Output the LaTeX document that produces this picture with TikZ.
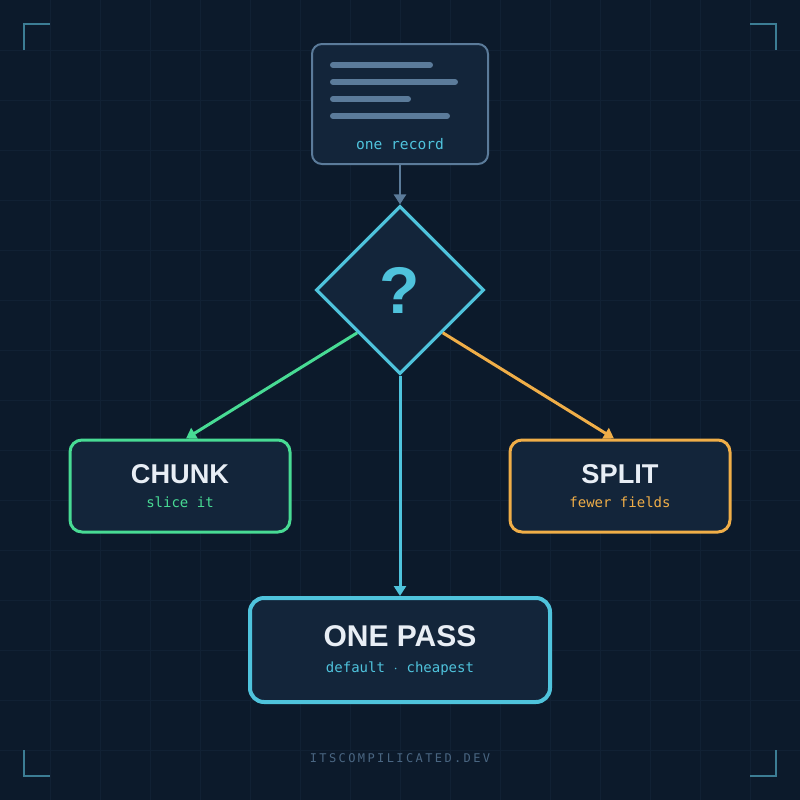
\documentclass[tikz,border=0pt]{standalone}
\usepackage{fontspec}
\setmainfont{Liberation Sans}
\newfontfamily\monofont{DejaVu Sans Mono}
\usetikzlibrary{shapes.geometric,arrows.meta,calc}

\definecolor{bgnavy}{HTML}{0C1A2B}
\definecolor{gridnavy}{HTML}{112134}
\definecolor{boxfill}{HTML}{13253A}
\definecolor{slate}{HTML}{5B7B9A}
\definecolor{skycyan}{HTML}{4FC3DC}
\definecolor{mint}{HTML}{48DB94}
\definecolor{amber}{HTML}{F0AE48}
\definecolor{snow}{HTML}{E8EEF5}
\definecolor{bracket}{HTML}{3C7D94}
\definecolor{footgray}{HTML}{4A6682}

\tikzset{
  card/.style={draw, fill=boxfill, rounded corners=6pt, line width=1.5pt,
    minimum width=110pt, minimum height=46pt, inner sep=0pt},
  head/.style={text=snow, font=\bfseries\fontsize{13.6}{14}\selectfont,
    anchor=base, inner sep=0pt},
  subtext/.style={font=\monofont\fontsize{7}{8}\selectfont, anchor=base, inner sep=0pt},
  link/.style={line width=1.5pt, -{Triangle[length=5pt,width=6pt]}},
}

\begin{document}
\begin{tikzpicture}[x=0.5pt,y=-0.5pt]
% backdrop and grid
\fill[bgnavy] (0,0) rectangle (800,800);
\useasboundingbox (0,0) rectangle (800,800);
\foreach \g in {50,100,...,750} {
  \draw[gridnavy, line width=0.5pt] (\g,0) -- (\g,800);
  \draw[gridnavy, line width=0.5pt] (0,\g) -- (800,\g);
}
% corner marks
\draw[bracket, line width=1pt] (24,50) -- (24,24) -- (50,24);
\draw[bracket, line width=1pt] (750,24) -- (776,24) -- (776,50);
\draw[bracket, line width=1pt] (24,750) -- (24,776) -- (50,776);
\draw[bracket, line width=1pt] (750,776) -- (776,776) -- (776,750);

% the record
\node[card, draw=slate, line width=1pt, minimum width=88pt, minimum height=60pt,
  rounded corners=5pt] (record) at (400,104) {};
\foreach \y/\len in {65/97, 82/122, 99/75, 116/114}
  \draw[slate, line width=3pt, line cap=round] (333,\y) -- ++(\len,0);
\node[subtext, text=skycyan, font=\monofont\fontsize{7.3}{8}\selectfont] (recordtag) at (400,149) {one record};

% the question
\node[diamond, draw=skycyan, fill=boxfill, line width=1.6pt, minimum width=84pt,
  minimum height=84pt, inner sep=0pt, text=skycyan,
  font=\bfseries\fontsize{33}{33}\selectfont] (decide) at (400,290) {?};

% outcomes
\node[card, draw=mint] (chunk) at (180,486) {};
\node[head] (chunktitle) at (180,483) {CHUNK};
\node[subtext, text=mint] (chunktag) at (180,507) {slice it};

\node[card, draw=amber] (split) at (620,486) {};
\node[head] (splittitle) at (620,483) {SPLIT};
\node[subtext, text=amber] (splittag) at (620,507) {fewer fields};

\node[card, draw=skycyan, line width=2pt, minimum width=150pt, minimum height=52pt,
  rounded corners=7pt] (onepass) at (400,650) {};
\node[head, font=\bfseries\fontsize{15}{16}\selectfont] (onepasstitle) at (400,646) {ONE PASS};
\node[subtext, text=skycyan] (onepasstag) at (400,672) {default $\cdot$ cheapest};

% connectors
\draw[link, slate, line width=1.25pt] (record) -- (decide.north);
\draw[link, mint] ($(decide.west)!.5!(decide.south)$) -- ([xshift=3pt]chunk.north);
\draw[link, amber] ($(decide.east)!.5!(decide.south)$) -- ([xshift=-3pt]split.north);
\draw[link, skycyan] (decide.south) -- (onepass.north);

% footer
\node[text=footgray, anchor=base, inner sep=0pt,
  font=\monofont\fontsize{6}{7}\selectfont\addfontfeature{LetterSpace=20}] (site) at (400,762) {ITSCOMPILICATED.DEV};
\end{tikzpicture}
\end{document}
